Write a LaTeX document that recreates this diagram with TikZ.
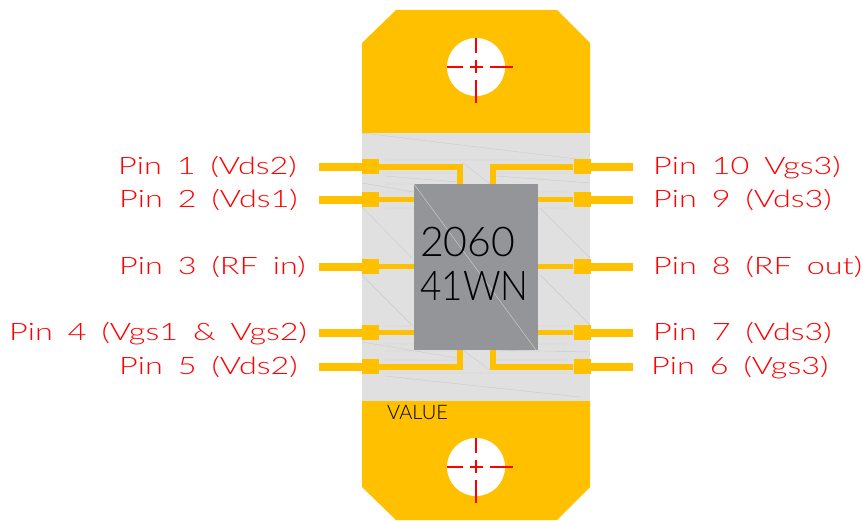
\documentclass[tikz,border=0pt]{standalone}
\usepackage{fontspec}
\setmainfont[FakeStretch=1.35,WordSpace=1.7]{Lato Light}
\newfontfamily\chipfont[FakeStretch=1.0]{Lato Light}
\newfontfamily\narrowfont[FakeStretch=0.9]{Lato Light}
\definecolor{flange}{HTML}{FFC000}
\definecolor{board}{HTML}{E0E0E0}
\definecolor{die}{HTML}{939598}
\definecolor{hair}{HTML}{CCCCCC}
\tikzset{
  padbox/.style={draw=none, fill=flange, minimum width=17pt, minimum height=15pt, inner sep=0pt},
  lead/.style={draw=flange, line width=8pt},
  trace/.style={draw=flange, line width=6.5pt},
  thintrace/.style={draw=flange, line width=5pt},
  pinlabel/.style={text=red, font=\fontsize{24}{24}\selectfont, inner sep=0pt, anchor=base west},
  chiplabel/.style={anchor=base west, inner sep=0pt},
  centermark/.style={draw=red, line width=1.1pt},
  hairline/.style={draw=hair, line width=0.4pt}
}
\begin{document}
\begin{tikzpicture}[x=1pt, y=-1pt]
\useasboundingbox (0,0) rectangle (863,521);
\fill[flange] (396,10) -- (557,10) -- (590,43) -- (590,133) -- (362,133) -- (362,43) -- cycle;
\fill[flange] (362,401) -- (590,401) -- (590,487) -- (557,520) -- (396,520) -- (362,487) -- cycle;
\fill[board] (362,133) rectangle (590,401);
\fill[white] (476,67) circle (29);
\fill[white] (476,467) circle (29);

\draw[hairline] (385,160) -- (567,160) (385,173) -- (457,173) (385,176) -- (457,182) (385,184) -- (414,184) (385,192) -- (414,192) (385,208) -- (414,208) (362,183) -- (414,192);
\draw[hairline] (496,173) -- (567,173) (496,176) -- (590,183) (538,192) -- (567,192) (538,208) -- (567,208);
\draw[hairline] (362,133) -- (585,160) (463,163) -- (490,184) (362,207) -- (412,258) (362,275) -- (412,325) (540,208) -- (590,258) (540,275) -- (590,325);
\draw[hairline] (385,326) -- (414,326) (385,344) -- (414,344) (385,351) -- (457,351) (385,360) -- (457,360) (362,342) -- (457,358);
\draw[hairline] (538,326) -- (567,326) (538,344) -- (567,344) (496,351) -- (567,351) (496,360) -- (567,360) (496,350) -- (590,352);
\draw[hairline] (385,373) -- (567,373) (385,376) -- (580,397) (463,350) -- (490,370);

\node (chip) [fill=die, minimum width=124pt, minimum height=166pt, inner sep=0pt] at (476,267) {};
\draw[draw=board!80!die, line width=0.4pt] (chip.north west) -- (536,350);

\foreach \n/\y in {a/167,b/200,c/267,d/333,e/367} {
  \node (left\n) [padbox] at (370.5,\y) {};
  \node (right\n) [padbox] at (582,\y) {};
  \coordinate (leftend\n) at (319,\y);
  \coordinate (rightend\n) at (633,\y);
  \draw[lead] (leftend\n) -- (left\n);
  \draw[lead] (rightend\n) -- (right\n);
}
\draw[trace] (lefta.east) -| (460,184);
\draw[trace] (righta.west) -| (493,184);
\draw[trace] (lefte.east) -| (460,350);
\draw[trace] (righte.west) -| (493,350);
\foreach \n in {b,c,d} {
  \draw[thintrace] (left\n) -- (left\n -| chip.west);
  \draw[thintrace] (right\n) -- (right\n -| chip.east);
}

\draw[centermark] (476,38) -- (476,53) (476,60) -- (476,73) (476,80) -- (476,103);
\draw[centermark] (447,67) -- (463,67) (470,67) -- (483,67) (490,67) -- (513,67);
\draw[centermark] (476,438) -- (476,453) (476,460) -- (476,473) (476,480) -- (476,503);
\draw[centermark] (447,467) -- (463,467) (470,467) -- (483,467) (490,467) -- (513,467);

\node (pinone) [pinlabel] at (118,175) {Pin 1 (Vds2)};
\node (pintwo) [pinlabel] at (119,208) {Pin 2 (Vds1)};
\node (pinthree) [pinlabel] at (119,275) {Pin 3 (RF in)};
\node (pinfour) [pinlabel] at (9,341) {Pin 4 (Vgs1 \& Vgs2)};
\node (pinfive) [pinlabel] at (119,375) {Pin 5 (Vds2)};
\node (pinten) [pinlabel] at (653,175) {Pin 10 Vgs3)};
\node (pinnine) [pinlabel] at (653,208) {Pin 9 (Vds3)};
\node (pineight) [pinlabel] at (653,275) {Pin 8 (RF out)};
\node (pinseven) [pinlabel] at (653,341) {Pin 7 (Vds3)};
\node (pinsix) [pinlabel] at (651,375) {Pin 6 (Vgs3)};

\node (marktop) [chiplabel, font=\chipfont\fontsize{41}{41}\selectfont] at (420,257) {2060};
\node (markbottom) [chiplabel, font=\narrowfont\fontsize{41}{41}\selectfont] at (420,301) {41WN};
\node (valuetext) [chiplabel, font=\chipfont\fontsize{20}{20}\selectfont] at (387,420) {VALUE};
\end{tikzpicture}
\end{document}
